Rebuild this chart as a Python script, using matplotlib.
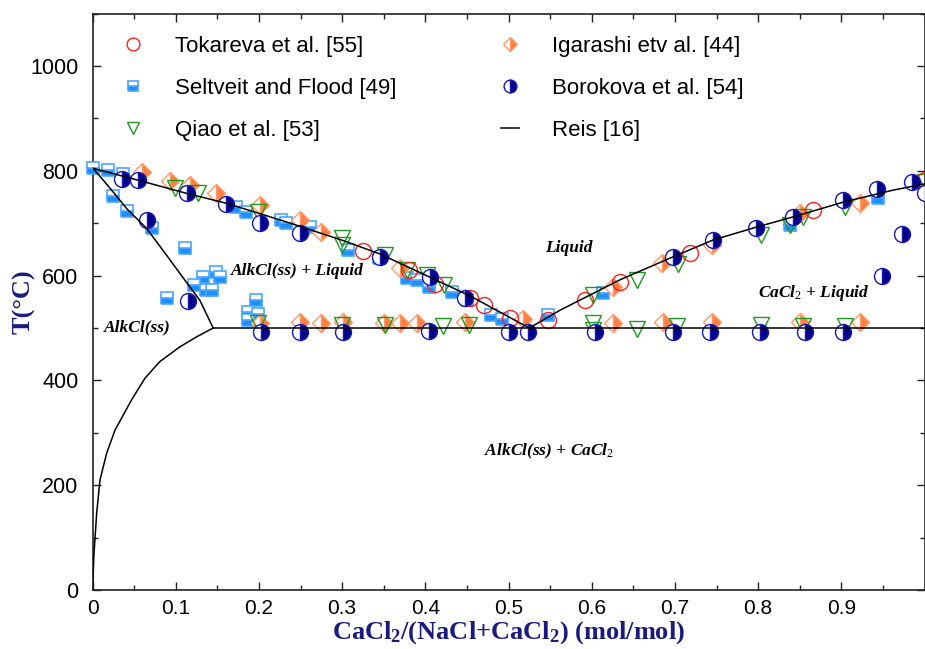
import matplotlib
matplotlib.use("Agg")
import matplotlib.pyplot as plt
from matplotlib.lines import Line2D
from matplotlib.ticker import MultipleLocator, FixedLocator

plt.rcParams['mathtext.fontset'] = 'custom'
plt.rcParams['mathtext.rm'] = 'Liberation Serif'
plt.rcParams['mathtext.bf'] = 'Liberation Serif:bold'
plt.rcParams['mathtext.it'] = 'Liberation Serif:italic:bold'

# ---------------- data ----------------
tok_x = [0.325, 0.380, 0.412, 0.454, 0.470, 0.502, 0.548, 0.592, 0.634, 0.718, 0.866, 1.0]
tok_T = [646, 611, 584, 557, 543, 520, 515, 553, 588, 644, 725, 782]

sel_x = [0, 0.019, 0.037, 0.025, 0.042, 0.071, 0.111, 0.173, 0.185, 0.227, 0.233, 0.253, 0.261,
         0.133, 0.149, 0.153, 0.122, 0.137, 0.144, 0.089, 0.197, 0.187, 0.199, 0.187,
         0.307, 0.344, 0.378, 0.390, 0.404, 0.432, 0.450, 0.479, 0.492, 0.548, 0.614, 0.838, 0.944]
sel_T = [805, 802, 793, 752, 723, 691, 652, 731, 722, 706, 700, 690, 693,
         598, 607, 598, 583, 573, 573, 557, 553, 531, 527, 515,
         649, 633, 595, 592, 579, 569, 553, 525, 518, 525, 567, 697, 749]

qiao_x = [0.099, 0.127, 0.199, 0.300, 0.300, 0.352, 0.378, 0.402, 0.422, 0.602, 0.654, 0.704,
          0.804, 0.838, 0.854, 0.905, 1.0,
          0.199, 0.300, 0.352, 0.421, 0.453, 0.602, 0.602, 0.654, 0.702, 0.804, 0.854, 0.905]
qiao_T = [767, 757, 722, 671, 658, 639, 611, 602, 582, 563, 592, 623,
          677, 697, 711, 731, 779,
          509, 505, 506, 503, 505, 509, 496, 499, 503, 506, 503, 503]

iga_x = [0.059, 0.093, 0.117, 0.149, 0.201, 0.249, 0.275, 0.370, 0.518, 0.626, 0.684, 0.744,
         0.850, 0.922,
         0.201, 0.249, 0.275, 0.301, 0.350, 0.370, 0.390, 0.448, 0.626, 0.686, 0.744, 0.850, 0.922]
iga_T = [797, 781, 772, 757, 735, 706, 684, 614, 518, 579, 625, 658,
         719, 738,
         509, 512, 510, 512, 510, 510, 510, 512, 509, 511, 511, 511, 511]

bor_x = [0.035, 0.055, 0.113, 0.161, 0.201, 0.065, 0.115, 0.249, 0.346, 0.406, 0.448, 0.698,
         0.746, 0.798, 0.842, 0.902, 0.943, 0.985, 1.0, 0.973, 0.949,
         0.203, 0.249, 0.301, 0.404, 0.500, 0.524, 0.604, 0.698, 0.742, 0.802, 0.856, 0.902]
bor_T = [784, 782, 757, 736, 700, 706, 552, 681, 635, 598, 557, 636,
         667, 690, 712, 744, 766, 779, 757, 679, 600,
         493, 493, 493, 494, 493, 493, 493, 493, 493, 493, 493, 493]

# Reis [16] model curves
liq_left_x = [0, 0.055, 0.113, 0.161, 0.23, 0.301, 0.346, 0.40, 0.454, 0.525]
liq_left_T = [805, 782, 757, 738, 704, 667, 641, 601, 561, 500]
liq_right_x = [0.525, 0.562, 0.634, 0.698, 0.746, 0.799, 0.842, 0.902, 0.962, 1.0]
liq_right_T = [500, 534, 592, 636, 668, 693, 712, 740, 763, 775]
solidus_x = [0, 0.021, 0.041, 0.065, 0.089, 0.113, 0.129, 0.145]
solidus_T = [806, 767, 728, 690, 639, 587, 553, 500]
solvus_x = [0, 0.0018, 0.005, 0.009, 0.017, 0.027, 0.047, 0.063, 0.081, 0.105, 0.125, 0.145]
solvus_T = [0, 70, 146, 210, 261, 305, 363, 404, 436, 464, 483, 500]
eut_x = [0.145, 1.0]
eut_T = [500, 500]

xtick_vals = [0, 0.1, 0.2, 0.3, 0.4, 0.5, 0.6, 0.7, 0.8, 0.9]
xtick_labels = ['0', '0.1', '0.2', '0.3', '0.4', '0.5', '0.6', '0.7', '0.8', '0.9']
ytick_vals = [0, 200, 400, 600, 800, 1000]

# ---------------- figure ----------------
W, H = 925, 649
fig = plt.figure(figsize=(W / 100, H / 100), dpi=100)
ax = fig.add_axes([92.5 / W, 1 - 590 / H, (924.5 - 92.5) / W, (590 - 13.6) / H])

navy = '#1a1a80'
sty_sel = dict(marker='s', ms=8.5, ls='none', fillstyle='bottom', markerfacecolor='#1e8fff',
               markerfacecoloralt='white', markeredgecolor='#4aa5ff', mew=1.2)
sty_iga = dict(marker='D', ms=9.5, ls='none', fillstyle='right', markerfacecolor='#ff8040',
               markerfacecoloralt='white', markeredgecolor='#ff9a66', mew=1.0)
sty_qiao = dict(marker='v', ms=11, ls='none', fillstyle='none', markeredgecolor='#1f9a1f', mew=1.0)
sty_tok = dict(marker='o', ms=11.5, ls='none', fillstyle='none', markeredgecolor='#ff2020', mew=1.0)
sty_bor = dict(marker='o', ms=11.5, ls='none', fillstyle='right', markerfacecolor='#00008b',
               markerfacecoloralt='white', markeredgecolor='#1818b0', mew=1.0)

ax.plot(sel_x, sel_T, clip_on=False, zorder=3, **sty_sel)
ax.plot(iga_x, iga_T, clip_on=False, zorder=3, **sty_iga)
ax.plot(qiao_x, qiao_T, clip_on=False, zorder=4, **sty_qiao)
ax.plot(tok_x, tok_T, clip_on=False, zorder=4, **sty_tok)
ax.plot(bor_x, bor_T, clip_on=False, zorder=4, **sty_bor)

lk = dict(color='black', lw=1.1, zorder=5)
ax.plot(liq_left_x, liq_left_T, **lk)
ax.plot(liq_right_x, liq_right_T, **lk)
ax.plot(solidus_x, solidus_T, **lk)
ax.plot(solvus_x, solvus_T, **lk)
ax.plot(eut_x, eut_T, **lk)

ax.set_xlim(0, 1.0)
ax.set_ylim(0, 1100)
ax.xaxis.set_major_locator(FixedLocator(xtick_vals))
ax.set_xticklabels(xtick_labels)
ax.xaxis.set_minor_locator(MultipleLocator(0.05))
ax.yaxis.set_major_locator(FixedLocator(ytick_vals))
ax.yaxis.set_minor_locator(MultipleLocator(100))
ax.tick_params(which='both', direction='in', top=True, right=True, width=1.0, color='#222222')
ax.tick_params(which='major', length=5.5)
ax.tick_params(which='minor', length=3.5)
ax.tick_params(axis='x', pad=6.5)
ax.tick_params(axis='y', pad=10)
tick_font = ['Liberation Sans Narrow', 'Liberation Sans']
for lab in ax.get_xticklabels():
    lab.set_family(tick_font)
    lab.set_fontsize(15)
for lab in ax.get_yticklabels():
    lab.set_family(tick_font)
    lab.set_fontsize(15.5)
for sp in ax.spines.values():
    sp.set_linewidth(1.2)
    sp.set_color('#222222')

ax.set_xlabel(r'CaCl$_\mathbf{2}$/(NaCl+CaCl$_\mathbf{2}$) (mol/mol)', family='Liberation Serif',
              fontweight='bold', fontsize=19, color=navy, labelpad=0.5)
ax.set_ylabel('T(°C)', family='Liberation Serif', fontweight='bold', fontsize=19, color=navy,
              labelpad=-4)

rk = dict(family='Liberation Serif', fontweight='bold', style='italic', fontsize=12.5,
          ha='center', va='center', zorder=6)
ax.text(0.572, 653, 'Liquid', **rk)
ax.text(0.246, 609, 'AlkCl(ss) + Liquid', **rk)
ax.text(0.054, 502, 'AlkCl(ss)', **rk)
ax.text(0.867, 567, r'CaCl$_\mathit{2}$ + Liquid', **rk)
ax.text(0.549, 265, r'AlkCl(ss) + CaCl$_\mathit{2}$', **rk)

def h(sty):
    return Line2D([], [], **sty)

leg_kw = dict(frameon=False, loc='upper left', handlelength=0.8, handletextpad=1.5,
              labelspacing=0.95, borderpad=0, borderaxespad=0, markerscale=0.8,
              prop={'family': 'Liberation Sans', 'size': 16}, numpoints=1)
leg1 = fig.legend([h(sty_tok), h(sty_sel), h(sty_qiao)],
                  ['Tokareva et al. [55]', 'Seltveit and Flood [49]', 'Qiao et al. [53]'],
                  bbox_to_anchor=(124 / W, 1 - 36 / H), **leg_kw)
leg2 = fig.legend([h(sty_iga), h(sty_bor), Line2D([], [], color='black', lw=1.1)],
                  ['Igarashi etv al. [44]', 'Borokova et al. [54]', 'Reis [16]'],
                  bbox_to_anchor=(501 / W, 1 - 36 / H), **leg_kw)

fig.savefig('out.png', dpi=100)
